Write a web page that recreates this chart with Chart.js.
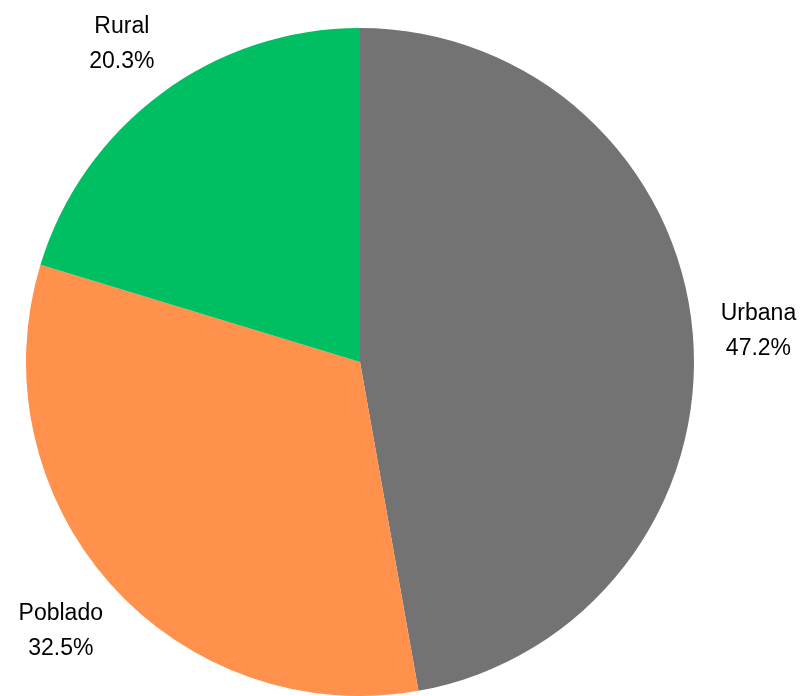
<!DOCTYPE html>
<html>
<head>
<meta charset="utf-8">
<script src="https://cdn.jsdelivr.net/npm/chart.js@4"></script>
<style>
  html, body { margin: 0; padding: 0; background: #fff; }
  #wrap { width: 800px; height: 696px; }
</style>
</head>
<body>
<div id="wrap"><canvas id="pieChart" width="800" height="696"></canvas></div>
<script>
// data
const categories = ['Urbana', 'Poblado', 'Rural'];
const shares = [47.2, 32.5, 20.3];
const sliceColors = ['#737373', '#FF914D', '#00BF63'];

// labels outside each slice: name + percentage
const outsideLabels = {
  id: 'outsideLabels',
  afterDatasetsDraw(chart) {
    const ctx = chart.ctx;
    const meta = chart.getDatasetMeta(0);
    ctx.save();
    ctx.font = '23px "Liberation Sans", Arial, sans-serif';
    ctx.fillStyle = '#000';
    ctx.textAlign = 'center';
    ctx.textBaseline = 'middle';
    meta.data.forEach((arc, i) => {
      const mid = (arc.startAngle + arc.endAngle) / 2;
      const dist = arc.outerRadius + 66;
      const x = arc.x + Math.cos(mid) * dist;
      const y = arc.y + Math.sin(mid) * dist + 4;
      ctx.fillText(categories[i], x, y - 17.5);
      ctx.fillText(shares[i].toFixed(1) + '%', x, y + 17.5);
    });
    ctx.restore();
  }
};

new Chart(document.getElementById('pieChart').getContext('2d'), {
  type: 'pie',
  data: {
    labels: categories,
    datasets: [{
      data: shares,
      backgroundColor: sliceColors,
      borderWidth: 0
    }]
  },
  options: {
    responsive: false,
    animation: false,
    layout: { padding: { left: 26, right: 106, top: 28, bottom: 0 } },
    plugins: {
      legend: { display: false },
      tooltip: { enabled: false }
    }
  },
  plugins: [outsideLabels]
});
</script>
</body>
</html>
